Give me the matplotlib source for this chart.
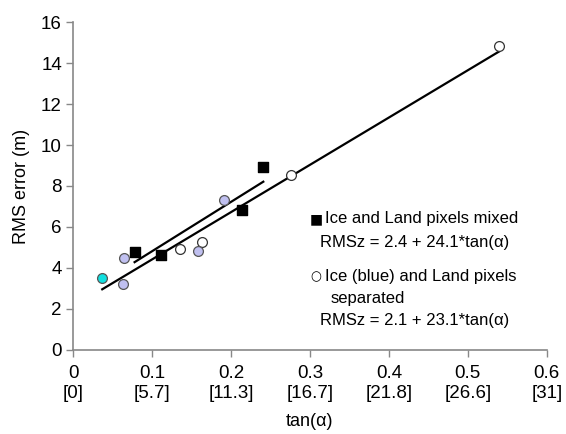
import matplotlib
matplotlib.use("Agg")
import matplotlib.pyplot as plt
import numpy as np

plt.rcParams['font.family'] = ['Liberation Sans', 'DejaVu Sans']

# Ice and Land pixels mixed (black squares)
mixed_x = [0.078, 0.111, 0.214, 0.241]
mixed_y = [4.78, 4.63, 6.83, 8.94]

# Separated: land pixels (open circles)
land_x = [0.136, 0.163, 0.276, 0.540]
land_y = [4.91, 5.27, 8.54, 14.83]

# Separated: ice pixels (blue circles)
ice_x = [0.065, 0.063, 0.158, 0.191]
ice_y = [4.50, 3.22, 4.83, 7.32]

# Cyan point
cyan_x = [0.037]
cyan_y = [3.53]

# Regression fits: intercept, slope
fit_mixed = (2.4, 24.1)
fit_sep = (2.1, 23.1)

xticks = [0, 0.1, 0.2, 0.3, 0.4, 0.5, 0.6]
xtick_deg = ["0", "5.7", "11.3", "16.7", "21.8", "26.6", "31"]
yticks = [0, 2, 4, 6, 8, 10, 12, 14, 16]

fig = plt.figure(figsize=(5.66, 4.34), dpi=100)
ax = fig.add_axes([0.129, 0.194, 0.837, 0.755])

gray = '#888888'

# fit lines
xm = np.array([min(mixed_x), max(mixed_x)])
ax.plot(xm, fit_mixed[0] + fit_mixed[1] * xm, color='black', lw=1.6, zorder=2)
all_sep_x = land_x + ice_x + cyan_x
xs = np.array([min(all_sep_x), max(all_sep_x)])
ax.plot(xs, fit_sep[0] + fit_sep[1] * xs, color='black', lw=1.6, zorder=2)

ax.scatter(mixed_x, mixed_y, marker='s', s=60, color='black', zorder=3)
ax.scatter(land_x, land_y, marker='o', s=50, facecolor='white', edgecolor='#333333', lw=0.9, zorder=3)
ax.scatter(ice_x, ice_y, marker='o', s=50, facecolor='#c0c0f0', edgecolor='#555555', lw=0.9, zorder=3)
ax.scatter(cyan_x, cyan_y, marker='o', s=50, facecolor='#11e0e0', edgecolor='#555555', lw=0.9, zorder=3)

ax.set_xlim(0, 0.6)
ax.set_ylim(0, 16)
ax.set_xticks(xticks)
ax.set_xticklabels([f"{t:g}\n[{d}]" for t, d in zip(xticks, xtick_deg)], fontsize=13.5, linespacing=1.25)
ax.set_yticks(yticks)
ax.set_yticklabels([str(t) for t in yticks], fontsize=13.5)
ax.tick_params(direction='out', color=gray, length=5, width=1, pad=3)
ax.tick_params(axis='x', pad=6)
for s in ['top', 'right']:
    ax.spines[s].set_visible(False)
for s in ['left', 'bottom']:
    ax.spines[s].set_color(gray)
    ax.spines[s].set_linewidth(1.2)

ax.set_xlabel("tan(α)", fontsize=13, labelpad=8)
ax.set_ylabel("RMS error (m)", fontsize=13, labelpad=8)

# legend-like annotations
def fx(px):
    return px / 566
def fy(py):
    return 1 - py / 434

fig.text(fx(316), fy(219), "■", fontsize=10, ha='center', va='center', family='DejaVu Sans')
fig.text(fx(325), fy(219), "Ice and Land pixels mixed", fontsize=12, va='center')
fig.text(fx(320), fy(242), "RMSz = 2.4 + 24.1*tan(α)", fontsize=12, va='center')
fig.text(fx(316), fy(277), "○", fontsize=9, ha='center', va='center', family='DejaVu Sans')
fig.text(fx(325), fy(277), "Ice (blue) and Land pixels", fontsize=12, va='center')
fig.text(fx(331), fy(298), "separated", fontsize=12, va='center')
fig.text(fx(320), fy(320), "RMSz = 2.1 + 23.1*tan(α)", fontsize=12, va='center')

fig.savefig("out.png", dpi=100)
